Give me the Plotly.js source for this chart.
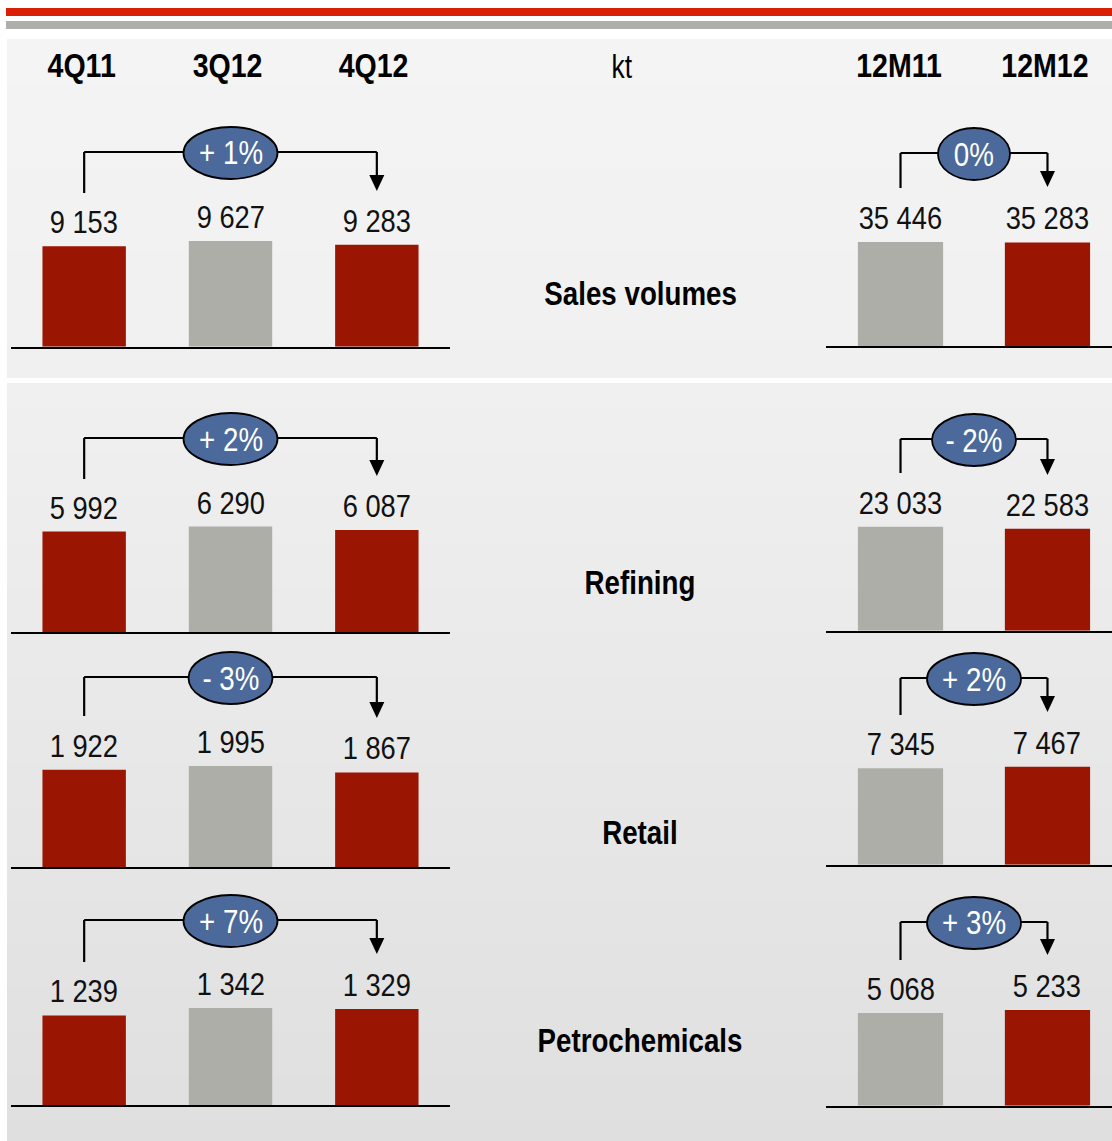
<!DOCTYPE html>
<html><head><meta charset="utf-8">
<script src="https://cdn.plot.ly/plotly-3.0.1.min.js"></script>
<style>html,body{margin:0;padding:0;background:#fff}#chart{width:1112px;height:1141px}</style>
</head><body><div id="chart"></div>
<script>
// ---------- data ----------
const quarterLabels = ['4Q11', '3Q12', '4Q12'];
const yearLabels = ['12M11', '12M12'];
const unitLabel = 'kt';
const segments = ['Sales volumes', 'Refining', 'Retail', 'Petrochemicals'];
const salesQ = [9153, 9627, 9283];
const refiningQ = [5992, 6290, 6087];
const retailQ = [1922, 1995, 1867];
const petroQ = [1239, 1342, 1329];
const salesY = [35446, 35283];
const refiningY = [23033, 22583];
const retailY = [7345, 7467];
const petroY = [5068, 5233];

// ---------- style / geometry ----------
const W = 1112, H = 1141;
const px = x => x / W;
const py = y => 1 - y / H;
const RED = '#9B1503', GREY = '#AEAEA9', BLUE = '#4B6A9B';
const FONT = '"Liberation Sans", Arial, sans-serif';
const qColors = [RED, GREY, RED];
const yColors = [GREY, RED];
const LEFT = {x0: 11, x1: 450, range: [-0.5, 2.5], barW: 0.57};
const RIGHT = {x0: 826, x1: 1112, range: [-0.507, 1.439], barW: 0.58};
const rowsQ = [salesQ, refiningQ, retailQ, petroQ];
const rowsY = [salesY, refiningY, retailY, petroY];
const geo = [
  {baseL: 346.7, baseR: 346, tallL: 105.7, tallR: 104, brL: 152, brR: 153, stemL: 193, stemR: 188, tipL: 191, tipR: 187, label: 293.5},
  {baseL: 632.3, baseR: 630.7, tallL: 105.7, tallR: 104, brL: 438, brR: 439, stemL: 479, stemR: 473, tipL: 476, tipR: 475, label: 582},
  {baseL: 867, baseR: 864.7, tallL: 101, tallR: 98, brL: 677, brR: 678, stemL: 716, stemR: 715, tipL: 718, tipR: 712, label: 832},
  {baseL: 1105, baseR: 1105.7, tallL: 97, tallR: 95.7, brL: 920, brR: 922, stemL: 962, stemR: 960, tipL: 954, tipR: 955, label: 1040}
];
const DOMH = 160;

function fmt(v) { return String(v).replace(/\B(?=(\d{3})+(?!\d))/g, ' '); }
function pct(a, b) {
  const r = Math.round((b - a) / a * 100);
  if (r > 0) return '+ ' + r + '%';
  if (r < 0) return '- ' + Math.abs(r) + '%';
  return '0%';
}
function ellW(t) { return t[0] === '+' ? 94 : (t[0] === '-' ? 84 : 72); }

const data = [], shapes = [], annotations = [], squeeze = [];
function addAnn(a, s) { a.xanchor = a.xanchor || 'center'; a.yanchor = a.yanchor || 'middle'; a.showarrow = false; annotations.push(a); squeeze.push(s); }
const layout = {
  width: W, height: H, margin: {l: 0, r: 0, t: 0, b: 0},
  paper_bgcolor: '#ffffff', plot_bgcolor: 'rgba(0,0,0,0)',
  showlegend: false, font: {family: FONT, color: '#000'},
  shapes: shapes, annotations: annotations
};

// background gradient panels
function mix(c1, c2, t) { return Math.round(c1 + (c2 - c1) * t); }
function panel(y0, y1, c0, c1) {
  const step = 4;
  for (let y = y0; y < y1; y += step) {
    const t = (y - y0) / (y1 - y0);
    const g = mix(c0, c1, t);
    shapes.push({type: 'rect', layer: 'below', xref: 'paper', yref: 'paper',
      x0: px(7), x1: 1, y0: py(Math.min(y + step + 1, y1)), y1: py(y),
      fillcolor: `rgb(${g},${g},${g})`, line: {width: 0}});
  }
}
panel(39, 378, 244, 240);
panel(383, 1141, 240, 223);
shapes.push({type: 'rect', layer: 'below', xref: 'paper', yref: 'paper', x0: px(6), x1: 1, y0: py(16), y1: py(8), fillcolor: '#D91F04', line: {width: 0}});
shapes.push({type: 'rect', layer: 'below', xref: 'paper', yref: 'paper', x0: px(6), x1: 1, y0: py(29), y1: py(21), fillcolor: '#AEAEAA', line: {width: 0}});

function addPanel(idx, side, cats, vals, colors, g) {
  const n = idx === 1 ? '' : String(idx);
  const xa = 'x' + n, ya = 'y' + n;
  const S = side === 'L' ? LEFT : RIGHT;
  const base = g['base' + side], tall = g['tall' + side];
  const br = g['br' + side], stem = g['stem' + side], tip = g['tip' + side];
  const maxV = Math.max(...vals);
  layout['xaxis' + n] = {domain: [px(S.x0), px(S.x1)], range: S.range, type: 'category', anchor: ya,
    showticklabels: false, ticks: '', showgrid: false, zeroline: false,
    showline: true, linecolor: '#000', linewidth: 2, fixedrange: true};
  layout['yaxis' + n] = {domain: [py(base), py(base - DOMH)], range: [0, maxV * DOMH / tall], anchor: xa,
    visible: false, showgrid: false, zeroline: false, fixedrange: true};
  data.push({type: 'bar', x: cats, y: vals, xaxis: xa, yaxis: ya, width: S.barW,
    marker: {color: colors, line: {width: 0}}, hoverinfo: 'skip'});
  vals.forEach((v, j) => addAnn({xref: xa, yref: ya, x: j, y: v, text: fmt(v),
    yanchor: 'bottom', yshift: 4, font: {family: FONT, size: 31, color: '#111'}}, 0.88));
  const last = vals.length - 1, mid = last / 2;
  const ln = {color: '#000', width: 2.2};
  shapes.push({type: 'line', xref: xa, yref: 'paper', x0: 0, x1: 0, y0: py(stem), y1: py(br), line: ln});
  shapes.push({type: 'line', xref: xa, yref: 'paper', x0: 0, x1: last, y0: py(br), y1: py(br), line: ln});
  shapes.push({type: 'line', xref: xa, yref: 'paper', x0: last, x1: last, y0: py(br), y1: py(tip - 15), line: ln});
  shapes.push({type: 'path', xref: xa, yref: 'paper', xsizemode: 'pixel', ysizemode: 'pixel',
    xanchor: last, yanchor: py(tip), path: 'M-7.5,16 L7.5,16 L0,0 Z', fillcolor: '#000', line: {width: 0}});
  const t = pct(vals[0], vals[last]);
  const w = ellW(t);
  shapes.push({type: 'circle', xref: xa, yref: 'paper', xsizemode: 'pixel', ysizemode: 'pixel',
    xanchor: mid, yanchor: py(br + 1), x0: -w / 2, x1: w / 2, y0: -26, y1: 26,
    fillcolor: BLUE, line: {color: '#000', width: 1.8}});
  addAnn({xref: xa, yref: 'paper', x: mid, y: py(br + 1), text: t,
    font: {family: FONT, size: 33, color: '#fff'}}, 0.84);
}

for (let i = 0; i < 4; i++) {
  addPanel(2 * i + 1, 'L', quarterLabels, rowsQ[i], qColors, geo[i]);
  addPanel(2 * i + 2, 'R', yearLabels, rowsY[i], yColors, geo[i]);
  addAnn({xref: 'paper', yref: 'paper', x: px(640), y: py(geo[i].label), text: segments[i],
    font: {family: FONT, size: 33, weight: 'bold', color: '#000'}}, 0.84);
}
// headers
quarterLabels.forEach((c, j) => addAnn({xref: 'x', yref: 'paper', x: j, xshift: -3, y: py(65), text: c,
  font: {family: FONT, size: 34, weight: 'bold', color: '#000'}}, 0.84));
yearLabels.forEach((c, j) => addAnn({xref: 'x2', yref: 'paper', x: j, xshift: -2, y: py(65), text: c,
  font: {family: FONT, size: 34, weight: 'bold', color: '#000'}}, 0.84));
addAnn({xref: 'paper', yref: 'paper', x: px(622), y: py(66), text: unitLabel,
  font: {family: FONT, size: 33, color: '#000'}}, 0.8);

function narrow(gd) {
  gd.querySelectorAll('g.annotation').forEach(g => {
    const i = +g.getAttribute('data-index');
    const s = squeeze[i];
    const txt = g.querySelector('text.annotation-text');
    if (!txt || !s) return;
    const bb = txt.getBBox();
    const cx = bb.x + bb.width / 2;
    txt.setAttribute('transform', `translate(${cx},0) scale(${s},1) translate(${-cx},0)`);
  });
}
Plotly.newPlot('chart', data, layout, {staticPlot: true, displayModeBar: false}).then(narrow);
</script>
</body></html>
